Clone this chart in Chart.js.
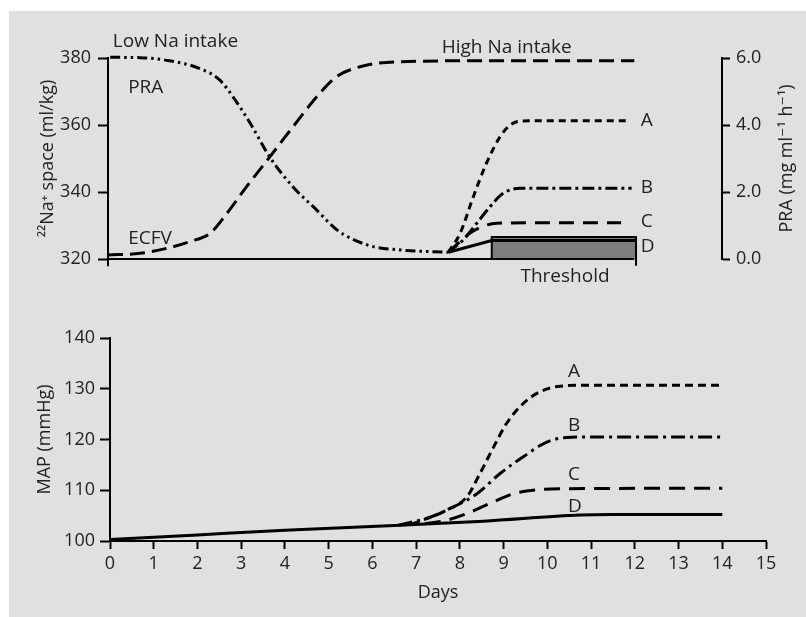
<!DOCTYPE html>
<html>
<head>
<meta charset="utf-8">
<script src="https://cdn.jsdelivr.net/npm/chart.js@4.4.0/dist/chart.umd.min.js"></script>
<style>
    html, body { margin: 0; padding: 0; background: #fff; }
    #panel { position: absolute; left: 9px; top: 11px; width: 797px; height: 606px; background: #e0e0e0; }
    #topChart { position: absolute; left: 0; top: 0; }
    #bottomChart { position: absolute; left: 0; top: 300px; }
</style>
</head>
<body>
<div id="panel"></div>
<canvas id="topChart" width="806" height="300"></canvas>
<canvas id="bottomChart" width="806" height="317"></canvas>
<script>
// ---- top panel: 22Na+ space (left axis) and PRA (right axis) ----
const ecfvDays = [0, 0.73, 1.34, 1.87, 2.33, 2.71, 3.16, 3.69, 4.22, 4.76, 5.21, 5.75, 6.66, 9, 12];
const ecfvValues = [321.2, 321.7, 323.2, 325.2, 327.7, 333.6, 341.6, 350.5, 359.5, 368.4, 374.4, 377.4, 378.9, 379.2, 379.2];

const praDays = [0.05, 0.73, 1.39, 2.08, 2.55, 2.85, 3.24, 3.69, 4.22, 4.76, 5.22, 5.91, 6.66, 7.76];
const praValues = [6.02, 6.01, 5.92, 5.69, 5.34, 4.84, 4.06, 3.04, 2.15, 1.46, 0.87, 0.42, 0.27, 0.2];

const praADays = [7.76, 8.03, 8.33, 8.63, 8.94, 9.17, 9.47, 10.5, 11.9];
const praAValues = [0.2, 0.77, 1.86, 2.86, 3.65, 4.0, 4.12, 4.13, 4.13];
const praBDays = [7.76, 8.1, 8.41, 8.71, 9.01, 9.39, 10.5, 11.94];
const praBValues = [0.2, 0.57, 1.07, 1.56, 1.96, 2.11, 2.11, 2.11];
const praCDays = [7.76, 8.25, 8.56, 8.86, 10, 11.7];
const praCValues = [0.2, 0.77, 0.98, 1.07, 1.08, 1.08];
const praDDays = [7.76, 8.75, 12.04];
const praDValues = [0.2, 0.55, 0.55];

const thresholdDays = [8.75, 8.75, 12.04, 12.04];
const thresholdValues = [0, 0.66, 0.66, -0.2];

const baselineDays = [0, 0, 12];
const baselineValues = [317.8, 320, 320];

const naSpaceTicks = [320, 340, 360, 380];
const praTicks = [0, 2, 4, 6];

const topTexts = ['Low Na intake', 'PRA', 'ECFV', 'High Na intake', 'A', 'B', 'C', 'D', 'Threshold'];
const topTextDays = [0.11, 0.46, 0.46, 9.09, 12.15, 12.15, 12.15, 12.15, 10.42];
const topTextValues = [384.8, 371.3, 326.0, 383.0, 361.2, 341.2, 331.1, 323.7, 314.7];
const topTextAlign = ['left', 'left', 'left', 'center', 'left', 'left', 'left', 'left', 'center'];

// ---- bottom panel: MAP ----
const mapADays = [6.9, 7.7, 8.16, 8.46, 8.77, 9.07, 9.45, 9.83, 10.29, 11, 14];
const mapAValues = [103.3, 106.1, 108.7, 113.3, 118.5, 123.2, 127.1, 129.4, 130.5, 130.7, 130.7];
const mapBDays = [6.6, 7.32, 7.85, 8.39, 8.92, 9.45, 9.99, 10.44, 11, 14];
const mapBValues = [103.1, 104.7, 106.7, 109.3, 113.3, 116.6, 119.5, 120.4, 120.5, 120.5];
const mapCDays = [7.2, 7.7, 8.16, 8.69, 9.22, 9.76, 10.44, 14];
const mapCValues = [103.4, 104.1, 105.4, 107.4, 109.3, 110.1, 110.3, 110.4];
const mapDDays = [0, 2, 4, 6.63, 8.54, 10.75, 11.5, 14];
const mapDValues = [100.3, 101.2, 102.1, 103.1, 103.9, 105.1, 105.2, 105.2];

const bottomTexts = ['A', 'B', 'C', 'D'];
const bottomTextDays = [10.47, 10.47, 10.47, 10.47];
const bottomTextValues = [133.3, 122.8, 113.0, 106.7];
const bottomTextAlign = ['left', 'left', 'left', 'left'];

const FONT = '"Open Sans", "DejaVu Sans", sans-serif';
const INK = '#222';

function toPoints(days, values) {
    return days.map((d, i) => ({ x: d, y: values[i] }));
}

function curve(days, values, dash, axis) {
    return {
        data: toPoints(days, values),
        yAxisID: axis,
        borderColor: '#000',
        borderWidth: 3,
        borderDash: dash,
        pointRadius: 0,
        fill: false,
        cubicInterpolationMode: 'monotone',
        clip: false
    };
}

// text placed through the chart scales
const textPlugin = {
    id: 'textLabels',
    afterDraw(chart, args, opts) {
        const ctx = chart.ctx;
        const xs = chart.scales.x;
        const ys = chart.scales[opts.axis];
        ctx.save();
        ctx.font = '19px ' + FONT;
        ctx.fillStyle = INK;
        ctx.textBaseline = 'middle';
        opts.texts.forEach((t, i) => {
            ctx.textAlign = opts.align[i];
            ctx.fillText(t, xs.getPixelForValue(opts.days[i]), ys.getPixelForValue(opts.values[i]));
        });
        if (opts.rightTitle) {
            const r = chart.scales.pra;
            ctx.font = '18px ' + FONT;
            ctx.translate(r.right - 19, (r.top + r.bottom) / 2);
            ctx.rotate(-Math.PI / 2);
            ctx.textAlign = 'center';
            ctx.fillText(opts.rightTitle, 0, 0);
        }
        ctx.restore();
    }
};

function axisStyle(tickLen) {
    return {
        grid: { drawOnChartArea: false, drawTicks: true, tickLength: tickLen, tickWidth: 2, tickColor: '#000' },
        border: { display: true, color: '#000', width: 2 }
    };
}

new Chart(document.getElementById('topChart'), {
    type: 'line',
    data: {
        datasets: [
            Object.assign(curve(baselineDays, baselineValues, [], 'y'), { borderWidth: 2, cubicInterpolationMode: 'default', tension: 0 }),
            curve(ecfvDays, ecfvValues, [15, 7], 'y'),
            curve(praDays, praValues, [10, 4, 2.5, 4, 2.5, 4], 'pra'),
            curve(praADays, praAValues, [7, 5], 'pra'),
            curve(praBDays, praBValues, [12, 4, 3, 4], 'pra'),
            curve(praCDays, praCValues, [15, 9], 'pra'),
            Object.assign(curve(praDDays, praDValues, [], 'pra'), { cubicInterpolationMode: 'default', tension: 0 }),
            Object.assign(curve(thresholdDays, thresholdValues, [], 'pra'), {
                borderWidth: 2, cubicInterpolationMode: 'default', tension: 0,
                fill: { value: 0 }, backgroundColor: '#7d7d7d'
            })
        ]
    },
    options: {
        responsive: false,
        animation: false,
        layout: { padding: { left: 0, right: 0, top: 58, bottom: 41 } },
        plugins: {
            legend: { display: false },
            tooltip: { enabled: false },
            textLabels: {
                axis: 'y', texts: topTexts, days: topTextDays, values: topTextValues, align: topTextAlign,
                rightTitle: 'PRA (mg ml\u207B\u00B9 h\u207B\u00B9)'
            }
        },
        scales: {
            x: { type: 'linear', min: 0, max: 14, display: false },
            y: Object.assign(axisStyle(10), {
                position: 'left', min: 320, max: 380,
                afterBuildTicks: s => { s.ticks = naSpaceTicks.map(v => ({ value: v })); },
                afterFit: s => { s.width = 108; },
                ticks: { padding: 7, color: INK, font: { family: FONT, size: 18 } },
                title: { display: true, text: '\u00B2\u00B2Na\u207A space (ml/kg)', color: INK, padding: { top: 37, bottom: 0 }, font: { family: FONT, size: 18 } }
            }),
            pra: Object.assign(axisStyle(8), {
                position: 'right', min: 0, max: 6,
                afterBuildTicks: s => { s.ticks = praTicks.map(v => ({ value: v })); },
                afterFit: s => { s.width = 84; },
                ticks: { padding: 6, color: INK, font: { family: FONT, size: 18 }, callback: v => v.toFixed(1) }
            })
        }
    },
    plugins: [textPlugin]
});

new Chart(document.getElementById('bottomChart'), {
    type: 'line',
    data: {
        datasets: [
            curve(mapADays, mapAValues, [8, 5], 'y'),
            curve(mapBDays, mapBValues, [14, 5, 3, 5], 'y'),
            curve(mapCDays, mapCValues, [16, 9], 'y'),
            curve(mapDDays, mapDValues, [], 'y')
        ]
    },
    options: {
        responsive: false,
        animation: false,
        layout: { padding: { left: 0, right: 40, top: 38, bottom: 0 } },
        plugins: {
            legend: { display: false },
            tooltip: { enabled: false },
            textLabels: { axis: 'y', texts: bottomTexts, days: bottomTextDays, values: bottomTextValues, align: bottomTextAlign }
        },
        scales: {
            x: Object.assign(axisStyle(8), {
                type: 'linear', min: 0, max: 15,
                afterFit: s => { s.height = 76; },
                ticks: { stepSize: 1, padding: 4, maxRotation: 0, autoSkip: false, color: INK, font: { family: FONT, size: 18 } },
                title: { display: true, text: 'Days', color: INK, padding: { top: 0, bottom: 13 }, font: { family: FONT, size: 18 } }
            }),
            y: Object.assign(axisStyle(10), {
                min: 100, max: 140,
                afterFit: s => { s.width = 110; },
                ticks: { stepSize: 10, padding: 5, color: INK, font: { family: FONT, size: 18 } },
                title: { display: true, text: 'MAP (mmHg)', color: INK, padding: { top: 34, bottom: 0 }, font: { family: FONT, size: 18 } }
            })
        }
    },
    plugins: [textPlugin]
});
</script>
</body>
</html>
